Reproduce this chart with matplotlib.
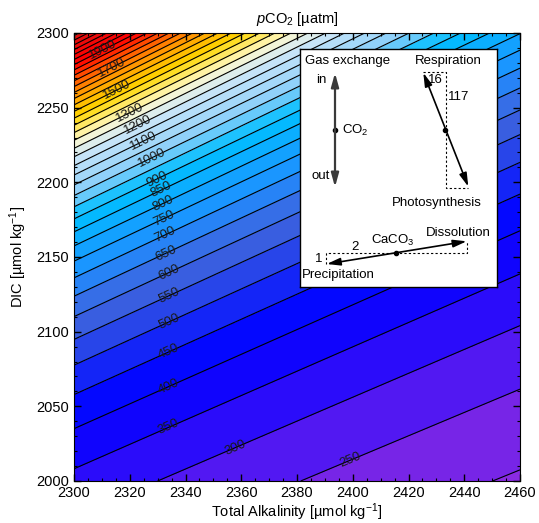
import numpy as np
import matplotlib
matplotlib.use("Agg")
import matplotlib.pyplot as plt
from matplotlib.colors import LinearSegmentedColormap

plt.rcParams['font.family'] = ['Liberation Sans', 'DejaVu Sans']
plt.rcParams['mathtext.fontset'] = 'custom'
plt.rcParams['mathtext.rm'] = 'Liberation Sans'
plt.rcParams['mathtext.it'] = 'Liberation Sans:italic'

# ---------------- data ----------------
ta_range = [2300, 2460]          # total alkalinity, umol/kg
dic_range = [2000, 2300]         # DIC, umol/kg
temp_c = 21.0                    # temperature, deg C
salinity = 35.0
contour_levels = list(range(200, 2201, 50))
label_levels = [250, 300, 350, 400, 450, 500, 550, 600, 650, 700, 750, 800,
                850, 900, 1000, 1100, 1200, 1300, 1500, 1700, 1900]
label_ta = [2399, 2358, 2334, 2334, 2334, 2334, 2334, 2334, 2333, 2332.6, 2332.4,
            2332, 2331.4, 2329.7, 2327.9, 2324.9, 2323.1, 2320.1, 2315.3, 2313.5, 2310.5]
cmap_values = [200, 300, 400, 450, 550, 600, 700, 900, 1000, 1200, 1300, 1450, 1600, 1750, 1900, 2200]
cmap_colors = ['#8a2be2', '#3a10f8', '#0000ff', '#0a14ff', '#3458e0', '#3d64e0', '#1e90ff',
               '#00bfff', '#87cefa', '#d0e8f8', '#fffacd', '#ffd700', '#ffa500', '#ff5a00',
               '#ff0000', '#e01010']
top_band_color = '#cd5c5c'


def constants(tc, s):
    T = tc + 273.15
    lnT = np.log(T)
    pK1 = 3633.86 / T - 61.2172 + 9.6777 * lnT - 0.011555 * s + 0.0001152 * s ** 2
    pK2 = 471.78 / T + 25.9290 - 3.16967 * lnT - 0.01781 * s + 0.0001122 * s ** 2
    ss = np.sqrt(s)
    lnKB = ((-8966.90 - 2890.53 * ss - 77.942 * s + 1.728 * s * ss - 0.0996 * s ** 2) / T
            + 148.0248 + 137.1942 * ss + 1.62142 * s
            - (24.4344 + 25.085 * ss + 0.2474 * s) * lnT + 0.053105 * ss * T)
    lnKw = (148.9652 - 13847.26 / T - 23.6521 * lnT
            + (118.67 / T - 5.977 + 1.0495 * lnT) * ss - 0.01615 * s)
    T100 = T / 100
    lnK0 = (-60.2409 + 93.4517 / T100 + 23.3585 * np.log(T100)
            + s * (0.023517 - 0.023656 * T100 + 0.0047036 * T100 ** 2))
    return 10 ** -pK1, 10 ** -pK2, np.exp(lnKB), np.exp(lnKw), np.exp(lnK0), 0.0004157 * s / 35


def pco2(ta, dic):
    K1, K2, KB, Kw, K0, BT = constants(temp_c, salinity)
    ta = np.asarray(ta, float) * 1e-6
    dic = np.asarray(dic, float) * 1e-6
    lo = np.full(np.broadcast(ta, dic).shape, -11.0)
    hi = np.full_like(lo, -5.0)
    for _ in range(80):
        mid = 0.5 * (lo + hi)
        h = 10 ** mid
        alk = (dic * (K1 * h + 2 * K1 * K2) / (h * h + K1 * h + K1 * K2)
               + BT * KB / (KB + h) + Kw / h - h)
        up = alk > ta        # alkalinity too high -> H too low
        lo = np.where(up, mid, lo)
        hi = np.where(up, hi, mid)
    h = 10 ** (0.5 * (lo + hi))
    co2 = dic * h * h / (h * h + K1 * h + K1 * K2)
    return co2 / K0 * 1e6


ta = np.linspace(ta_range[0], ta_range[1], 321)
dic = np.linspace(dic_range[0], dic_range[1], 301)
TA, DIC = np.meshgrid(ta, dic)
P = pco2(TA, DIC)

cmap = LinearSegmentedColormap.from_list(
    'pco2', [((v - cmap_values[0]) / (cmap_values[-1] - cmap_values[0]), c)
             for v, c in zip(cmap_values, cmap_colors)])
lv = [0] + contour_levels + [1e5]
band_colors = []
for a, b in zip(lv[:-1], lv[1:]):
    if b > 1e4:
        band_colors.append(top_band_color)
        continue
    m = (a + b) / 2 if a > 0 else b - 25
    band_colors.append(cmap(np.clip((m - cmap_values[0]) / (cmap_values[-1] - cmap_values[0]), 0, 1)))

fig = plt.figure(figsize=(5.39, 5.23), dpi=100)
ax = fig.add_axes([74 / 539, 1 - 481 / 523, 446 / 539, 448 / 523])
ax.contourf(TA, DIC, P, levels=lv, colors=band_colors)
cs = ax.contour(TA, DIC, P, levels=contour_levels, colors='k', linewidths=0.8)
ax.set_xlim(ta_range)
ax.set_ylim(dic_range)

# contour labels
for L, x0 in zip(label_levels, label_ta):
    col = pco2(np.full(dic.size, x0), dic)
    y0 = np.interp(L, col, dic)
    dx = 0.5
    gx = (pco2(x0 + dx, y0) - pco2(x0 - dx, y0)) / (2 * dx)
    gy = (pco2(x0, y0 + dx) - pco2(x0, y0 - dx)) / (2 * dx)
    slope = -gx / gy
    p1 = ax.transData.transform((x0, y0))
    p2 = ax.transData.transform((x0 + 1, y0 + slope))
    ang = np.degrees(np.arctan2(p2[1] - p1[1], p2[0] - p1[0]))
    ax.text(x0, y0, str(L), rotation=ang, ha='center', va='center',
            rotation_mode='anchor', fontsize=9.5, color='#1a1a1a')

ax.set_xticks(np.arange(2300, 2461, 20))
ax.set_yticks(np.arange(2000, 2301, 50))
ax.set_xticks(np.arange(2300, 2461, 5), minor=True)
ax.set_yticks(np.arange(2000, 2301, 10), minor=True)
ax.tick_params(which='both', direction='in', top=True, right=True, labelsize=10.5)
ax.tick_params(which='major', length=5, width=1)
ax.tick_params(which='minor', length=2.5, width=0.8)
ax.set_xlabel(r'Total Alkalinity [µmol kg$^{-1}$]', fontsize=10.5, labelpad=1)
ax.set_ylabel(r'DIC [µmol kg$^{-1}$]', fontsize=10.5, labelpad=5)
ax.set_title(r'$p$CO$_2$ [µatm]', fontsize=10.5, pad=7)

# inset
ins = fig.add_axes([300 / 539, 1 - 287 / 523, 197 / 539, 238 / 523])
ins.set_xlim(0, 197)
ins.set_ylim(238, 0)
ins.set_xticks([])
ins.set_yticks([])
ins.set_facecolor('white')
for sp in ins.spines.values():
    sp.set_linewidth(1.0)

fs = 9.5
ins.text(48, 12, 'Gas exchange', ha='center', va='center', fontsize=fs)
ins.text(21, 31, 'in', ha='center', va='center', fontsize=fs)
ins.text(21, 127, 'out', ha='center', va='center', fontsize=fs)
ins.text(42, 81, r'CO$_2$', ha='left', va='center', fontsize=fs)
ins.annotate('', xy=(35, 24), xytext=(35, 138),
             arrowprops=dict(arrowstyle='<|-|>,head_length=0.9,head_width=0.25', color='#3a3a3a',
                             lw=1.6, shrinkA=0, shrinkB=0, mutation_scale=9))
ins.plot([35], [81], 'o', color='k', ms=3)

ins.text(148, 12, 'Respiration', ha='center', va='center', fontsize=fs)
ins.text(136.7, 154.3, 'Photosynthesis', ha='center', va='center', fontsize=fs)
ins.text(135.7, 31, '16', ha='center', va='center', fontsize=fs)
ins.text(158.3, 47.7, '117', ha='center', va='center', fontsize=fs)
ins.plot([122.7, 145.7, 145.7, 168.3], [23.3, 23.3, 139.3, 139.3], ls=(0, (2, 2)), color='k', lw=0.8)
ins.annotate('', xy=(123.3, 23.7), xytext=(168.3, 137.7),
             arrowprops=dict(arrowstyle='<|-|>,head_length=0.9,head_width=0.25', color='k',
                             lw=1.2, shrinkA=0, shrinkB=0, mutation_scale=9))
ins.plot([145], [81], 'o', color='k', ms=3)

ins.text(93.3, 191, r'CaCO$_3$', ha='center', va='center', fontsize=fs)
ins.text(158.3, 183.7, 'Dissolution', ha='center', va='center', fontsize=fs)
ins.text(38.3, 226, 'Precipitation', ha='center', va='center', fontsize=fs)
ins.text(55, 197.7, '2', ha='center', va='center', fontsize=fs)
ins.text(18.3, 210.3, '1', ha='center', va='center', fontsize=fs)
ins.plot([26, 26, 166.7, 166.7], [215, 204.3, 204.3, 192.3], ls=(0, (2, 2)), color='k', lw=0.8)
ins.annotate('', xy=(26.7, 215), xytext=(166.7, 192.3),
             arrowprops=dict(arrowstyle='<|-|>,head_length=0.9,head_width=0.25', color='k',
                             lw=1.2, shrinkA=0, shrinkB=0, mutation_scale=9))
ins.plot([96], [203.7], 'o', color='k', ms=3)

fig.savefig('out.png', dpi=100)
